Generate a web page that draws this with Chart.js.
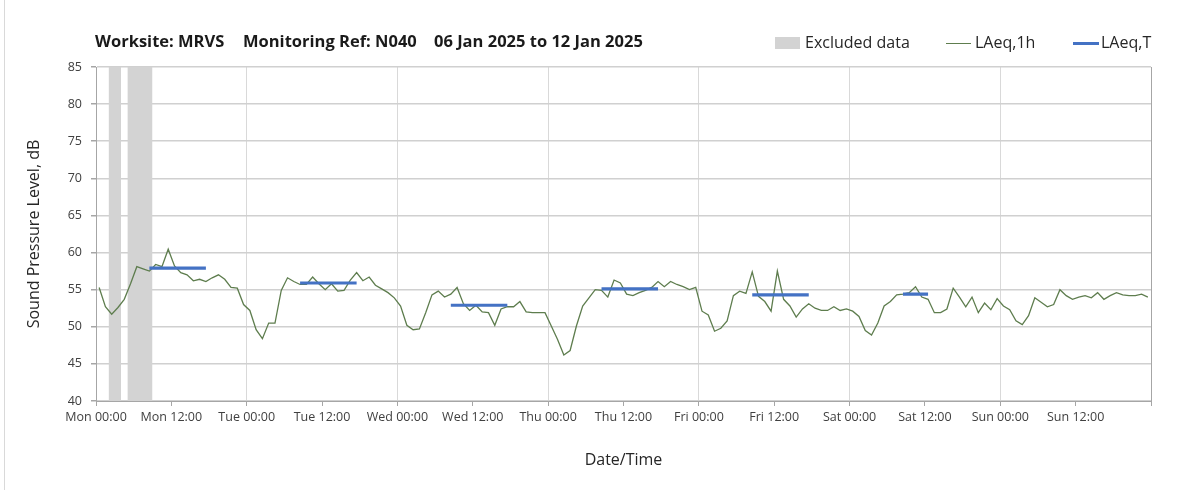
<!DOCTYPE html>
<html>
<head>
<meta charset="utf-8">
<script src="https://cdn.jsdelivr.net/npm/chart.js@4.4.1/dist/chart.umd.min.js"></script>
<style>
  html, body { margin: 0; padding: 0; background: #fff; }
  #wrap { position: relative; width: 1203px; height: 490px; overflow: hidden; background: #fff; }
  #frame { position: absolute; left: 4px; top: 0; width: 1px; height: 490px; background: #d9d9d9; }
  #chart { position: absolute; left: 0; top: 0; }
  .ttl { position: absolute; top: 29px; font: bold 16.5px "Open Sans", sans-serif; color: #1a1a1a; white-space: pre; }
  .leg { position: absolute; top: 31px; font: 16px "Open Sans", sans-serif; color: #262626; white-space: pre; }
  .sw { position: absolute; }
</style>
</head>
<body>
<div id="wrap">
  <div id="frame"></div>
  <canvas id="chart" width="1203" height="490"></canvas>
  <div class="ttl" style="left:95px">Worksite: MRVS</div>
  <div class="ttl" style="left:243px">Monitoring Ref: N040</div>
  <div class="ttl" style="left:434px">06 Jan 2025 to 12 Jan 2025</div>

  <div class="sw" style="left:775px;top:37px;width:25px;height:12px;background:#d3d3d3"></div>
  <div class="leg" style="left:805px">Excluded data</div>
  <div class="sw" style="left:946px;top:43px;width:25px;height:1px;background:#5e7d4e"></div>
  <div class="leg" style="left:975px">LAeq,1h</div>
  <div class="sw" style="left:1073px;top:42px;width:26px;height:3px;background:#4472c4"></div>
  <div class="leg" style="left:1101px">LAeq,T</div>
</div>
<script>
// ---- data ----
const xTickLabels = ['Mon 00:00','Mon 12:00','Tue 00:00','Tue 12:00','Wed 00:00','Wed 12:00',
  'Thu 00:00','Thu 12:00','Fri 00:00','Fri 12:00','Sat 00:00','Sat 12:00','Sun 00:00','Sun 12:00'];
const yTickMin = 40, yTickMax = 85, yTickStep = 5;
const hoursInWeek = 168;

// hourly LAeq,1h values (one per hour from Mon 00:00)
const hourlyLevels = [
  55.3, 52.7, 51.7, 52.6, 53.7, 55.8, 58.1, 57.8, 57.5, 58.4,
  58.1, 60.45, 58.2, 57.3, 57.0, 56.2, 56.4, 56.1, 56.6, 57.0,
  56.4, 55.3, 55.2, 53.0, 52.2, 49.6, 48.4, 50.5, 50.5, 54.9,
  56.6, 56.1, 55.7, 55.7, 56.7, 55.8, 55.0, 55.8, 54.8, 54.9,
  56.3, 57.3,
  56.2, 56.7, 55.6, 55.1, 54.6, 53.9, 52.8, 50.2, 49.6, 49.7,
  51.9, 54.3, 54.8, 54.0, 54.4, 55.3, 53.1, 52.2, 52.9, 52.0,
  51.9, 50.2, 52.4, 52.7, 52.7, 53.4, 52.0, 51.9, 51.9, 51.9,
  50.1, 48.3, 46.2, 46.8, 50.1, 52.8, 53.9, 55.0, 54.9, 54.0,
  56.3, 55.9,
  54.4, 54.2, 54.6, 54.9, 55.3, 56.1, 55.4, 56.1, 55.7, 55.4,
  55.0, 55.3, 52.1, 51.6, 49.4, 49.8, 50.8, 54.2, 54.8, 54.5,
  57.4, 54.1, 53.4, 52.1, 57.5, 53.7, 52.8, 51.3, 52.4, 53.1,
  52.5, 52.2, 52.2, 52.7, 52.2, 52.4, 52.1, 51.4, 49.5, 48.9,
  50.5, 52.8,
  53.4, 54.3, 54.4, 54.6, 55.4, 54.0, 53.7, 51.9, 51.9, 52.4,
  55.2, 54.0, 52.7, 54.0, 51.9, 53.2, 52.3, 53.8, 52.8, 52.3,
  50.8, 50.3, 51.5, 53.9, 53.3, 52.7, 53.0, 55.0, 54.2, 53.7,
  54.0, 54.2, 53.9, 54.6, 53.7, 54.2, 54.6, 54.3, 54.2, 54.2,
  54.4, 54.0
];

// excluded periods (hours from Mon 00:00)
const excludedStart = [2, 5];
const excludedEnd   = [4, 9];

// LAeq,T periods (hours from Mon 00:00) and levels
const periodStart  = [8.5, 32.5, 56.5, 80.5, 104.5, 128.5];
const periodEnd    = [17.5, 41.5, 65.5, 89.5, 113.5, 132.5];
const periodLevels = [57.9, 55.9, 52.9, 55.1, 54.3, 54.4];

// ---- build datasets ----
const hourlyPoints = hourlyLevels.map((v, i) => ({ x: i + 0.5, y: v }));
const excludedPoints = [];
excludedStart.forEach((s, i) => {
  excludedPoints.push({ x: s, y: yTickMax }, { x: excludedEnd[i], y: yTickMax }, { x: excludedEnd[i], y: null });
});
const periodPoints = [];
periodStart.forEach((s, i) => {
  periodPoints.push({ x: s, y: periodLevels[i] }, { x: periodEnd[i], y: periodLevels[i] }, { x: periodEnd[i], y: null });
});

const tickFont = { family: '"Open Sans", sans-serif', size: 12.5 };
const titleFont = { family: '"Open Sans", sans-serif', size: 16 };

new Chart(document.getElementById('chart'), {
  type: 'line',
  data: {
    datasets: [
      { label: 'Excluded data', data: excludedPoints, order: 3,
        borderWidth: 0, borderColor: 'rgba(0,0,0,0)', backgroundColor: '#d3d3d3',
        pointRadius: 0, fill: { value: yTickMin }, spanGaps: false },
      { label: 'LAeq,1h', data: hourlyPoints, order: 2,
        borderColor: '#5e7d4e', borderWidth: 1.3, pointRadius: 0, fill: false, tension: 0 },
      { label: 'LAeq,T', data: periodPoints, order: 1,
        borderColor: '#4472c4', borderWidth: 3.2, borderCapStyle: 'butt', pointRadius: 0, fill: false, spanGaps: false }
    ]
  },
  options: {
    responsive: false,
    animation: false,
    devicePixelRatio: 1,
    layout: { padding: { left: 0, top: 67, right: 52, bottom: 0 } },
    plugins: { legend: { display: false }, tooltip: { enabled: false }, title: { display: false } },
    scales: {
      x: {
        type: 'linear', min: 0, max: hoursInWeek,
        afterFit: (s) => { s.height = 89; },
        ticks: {
          stepSize: 12, maxTicksLimit: 30, autoSkip: false, maxRotation: 0, minRotation: 0,
          padding: 4, color: '#404040', font: tickFont,
          callback: (v) => { const k = Math.round(v / 12); return xTickLabels[k] !== undefined ? xTickLabels[k] : ''; }
        },
        grid: {
          color: (c) => {
            const v = c.tick ? c.tick.value : 0;
            if (v === hoursInWeek) return '#a6a6a6';
            return (v % 24 === 0) ? '#d9d9d9' : 'rgba(0,0,0,0)';
          },
          tickColor: '#a6a6a6', tickLength: 5, lineWidth: 1
        },
        border: { color: '#a6a6a6', width: 1 },
        title: { display: true, text: 'Date/Time', color: '#262626', font: titleFont, padding: { top: 0, bottom: 20 } }
      },
      y: {
        min: yTickMin, max: yTickMax,
        afterFit: (s) => { s.width = 96; },
        ticks: { stepSize: yTickStep, maxTicksLimit: 30, padding: 9, color: '#404040', font: tickFont },
        grid: { color: '#d0d0d0', lineWidth: 1.5, tickColor: '#a6a6a6', tickLength: 5 },
        border: { color: '#a6a6a6', width: 1 },
        title: { display: true, text: 'Sound Pressure Level, dB', color: '#262626', font: titleFont, padding: { top: 25, bottom: 0 } }
      }
    }
  }
});
</script>
</body>
</html>
